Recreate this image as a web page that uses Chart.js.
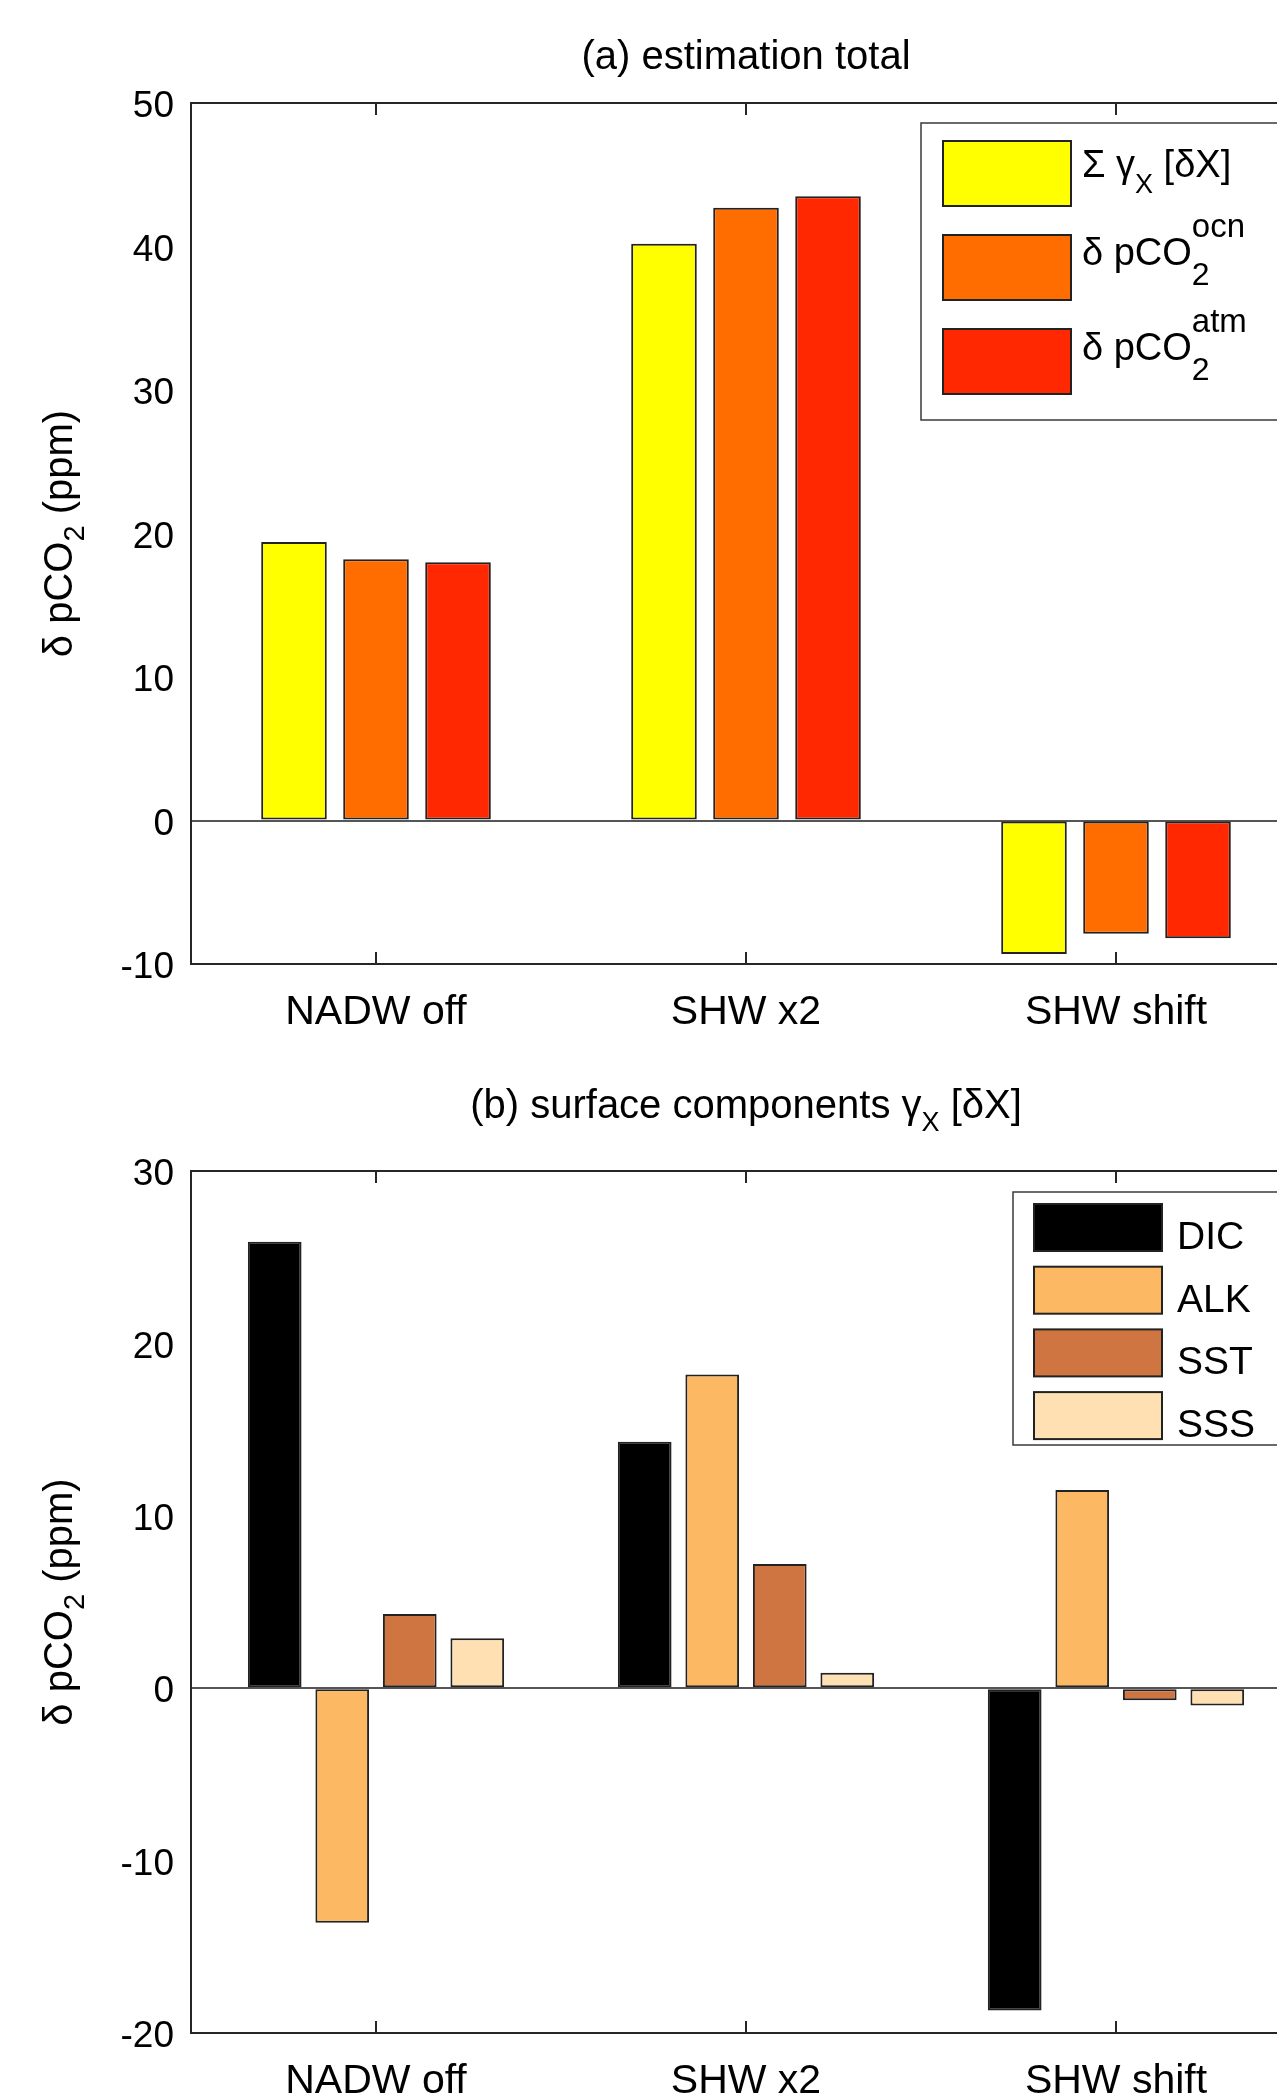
<!DOCTYPE html>
<html>
<head>
<meta charset="utf-8">
<title>estimation total / surface components</title>
<script src="https://cdn.jsdelivr.net/npm/chart.js@4.4.1/dist/chart.umd.min.js"></script>
<style>
  html, body { margin: 0; padding: 0; background: #fff; }
  body { width: 1277px; height: 2100px; overflow: hidden; position: relative; }
  .panel { position: absolute; left: 0; }
  #wrapA { top: 0; }
  #wrapB { top: 1060px; }
</style>
</head>
<body>
<div class="panel" id="wrapA"><canvas id="chartA" width="1340" height="1060"></canvas></div>
<div class="panel" id="wrapB"><canvas id="chartB" width="1340" height="1040"></canvas></div>
<script>
// categories on the x axis
const categories = ['NADW off', 'SHW x2', 'SHW shift'];

// (a) estimation total
const sumGamma = [19.4, 40.2, -9.3];
const pco2Ocn = [18.2, 42.7, -7.9];
const pco2Atm = [18.0, 43.5, -8.2];
const ticksA = [-10, 0, 10, 20, 30, 40, 50];

// (b) surface components
const dic = [25.9, 14.3, -18.7];
const alk = [-13.6, 18.2, 11.5];
const sst = [4.3, 7.2, -0.7];
const sss = [2.9, 0.9, -1.0];
const ticksB = [-20, -10, 0, 10, 20, 30];

const FONT = "'Liberation Sans', Arial, Helvetica, sans-serif";
const AXIS = '#262626';

// draw a line of text made of pieces [text, size, dy, advance]
function richText(ctx, parts, x, y, align) {
    let w = 0;
    parts.forEach(p => {
        ctx.font = p[1] + 'px ' + FONT;
        if (p[3] !== false) w += ctx.measureText(p[0]).width;
    });
    let cx = align === 'center' ? x - w / 2 : x;
    ctx.textAlign = 'left';
    ctx.textBaseline = 'alphabetic';
    parts.forEach(p => {
        ctx.font = p[1] + 'px ' + FONT;
        ctx.fillText(p[0], cx, y + p[2]);
        if (p[3] !== false) cx += ctx.measureText(p[0]).width;
    });
}

const yLabel = [['δ pCO', 40, 0], ['2', 29, 12], [' (ppm)', 40, 0]];

// frame, inner ticks, titles and legend
function decorPlugin(title, titleY, legend) {
    return {
        id: 'decor',
        afterDraw(chart) {
            const { ctx, chartArea: a, scales: { x } } = chart;
            ctx.save();
            ctx.strokeStyle = AXIS;
            ctx.lineWidth = 2;
            ctx.beginPath();
            ctx.rect(a.left, a.top, a.right - a.left, a.bottom - a.top);
            x.ticks.forEach((t, i) => {
                const px = x.getPixelForTick(i);
                ctx.moveTo(px, a.top); ctx.lineTo(px, a.top + 12);
                ctx.moveTo(px, a.bottom); ctx.lineTo(px, a.bottom - 12);
            });
            ctx.stroke();

            ctx.fillStyle = '#000';
            richText(ctx, title, (a.left + a.right) / 2, titleY, 'center');

            ctx.save();
            ctx.translate(72, (a.top + a.bottom) / 2);
            ctx.rotate(-Math.PI / 2);
            richText(ctx, yLabel, 0, 0, 'center');
            ctx.restore();

            // legend box
            const L = legend;
            ctx.fillStyle = '#fff';
            ctx.fillRect(L.left, L.top, a.right - 10 - L.left, L.bottom - L.top);
            ctx.strokeStyle = '#3a3a3a';
            ctx.lineWidth = 1.5;
            ctx.strokeRect(L.left, L.top, a.right - 10 - L.left, L.bottom - L.top);
            chart.data.datasets.forEach((ds, i) => {
                const top = L.rowTop + i * L.rowStep;
                ctx.fillStyle = ds.backgroundColor;
                ctx.fillRect(L.swLeft, top, L.swWidth, L.swHeight);
                ctx.strokeStyle = '#222';
                ctx.lineWidth = 2;
                ctx.strokeRect(L.swLeft, top, L.swWidth, L.swHeight);
                ctx.fillStyle = '#000';
                richText(ctx, L.labels[i], L.textX, top + L.baseOff[i], 'left');
            });
            ctx.restore();
        }
    };
}

function barOptions(ticks, xHeight, padTop, catPct, barPct) {
    return {
        responsive: false,
        animation: false,
        layout: { padding: { left: 0, right: 39, top: padTop, bottom: 0 } },
        plugins: { legend: { display: false }, tooltip: { enabled: false }, title: { display: false } },
        datasets: { bar: { categoryPercentage: catPct, barPercentage: barPct } },
        scales: {
            x: {
                offset: true,
                grid: { display: false, drawTicks: false },
                border: { display: false },
                ticks: { color: '#000', font: { family: FONT, size: 41 }, padding: 24, maxRotation: 0 },
                afterFit: s => { s.height = xHeight; }
            },
            y: {
                min: ticks[0],
                max: ticks[ticks.length - 1],
                grid: {
                    drawTicks: false,
                    lineWidth: 2,
                    color: c => (c.tick && c.tick.value === 0 ? '#555' : 'transparent')
                },
                border: { display: false },
                ticks: {
                    stepSize: ticks[1] - ticks[0], color: '#000',
                    font: { family: FONT, size: 37 }, padding: 17, labelOffset: 4
                },
                afterFit: s => { s.width = 191; }
            }
        }
    };
}

function bars(label, data, color) {
    return { label, data, backgroundColor: color, borderColor: '#222', borderWidth: 2, borderSkipped: false };
}

new Chart(document.getElementById('chartA'), {
    type: 'bar',
    data: {
        labels: categories,
        datasets: [
            bars('Σ γX [δX]', sumGamma, '#ffff00'),
            bars('δ pCO2 ocn', pco2Ocn, '#ff6c00'),
            bars('δ pCO2 atm', pco2Atm, '#ff2800')
        ]
    },
    options: barOptions(ticksA, 96, 103, 0.665, 0.8),
    plugins: [decorPlugin([['(a) estimation total', 40, 0]], 69, {
        left: 921, top: 123, bottom: 420,
        swLeft: 943, swWidth: 128, swHeight: 65, rowTop: 141, rowStep: 94,
        textX: 1082, baseOff: [36, 30, 31],
        labels: [
            [['Σ γ', 38, 0], ['X', 27, 16], [' [δX]', 38, 0]],
            [['δ pCO', 38, 0], ['2', 32, 20, false], ['ocn', 33, -28]],
            [['δ pCO', 38, 0], ['2', 32, 20, false], ['atm', 33, -28]]
        ]
    })]
});

new Chart(document.getElementById('chartB'), {
    type: 'bar',
    data: {
        labels: categories,
        datasets: [
            bars('DIC', dic, '#000000'),
            bars('ALK', alk, '#fdb863'),
            bars('SST', sst, '#cf7542'),
            bars('SSS', sss, '#fee0b2')
        ]
    },
    options: barOptions(ticksB, 67, 111, 0.73, 0.795),
    plugins: [decorPlugin([['(b) surface components γ', 40, 0], ['X', 27, 13], [' [δX]', 40, 0]], 58, {
        left: 1013, top: 132, bottom: 385,
        swLeft: 1034, swWidth: 128, swHeight: 47, rowTop: 144, rowStep: 62.7,
        textX: 1177, baseOff: [45, 45, 45, 45],
        labels: [[['DIC', 39, 0]], [['ALK', 39, 0]], [['SST', 39, 0]], [['SSS', 39, 0]]]
    })]
});
</script>
</body>
</html>
